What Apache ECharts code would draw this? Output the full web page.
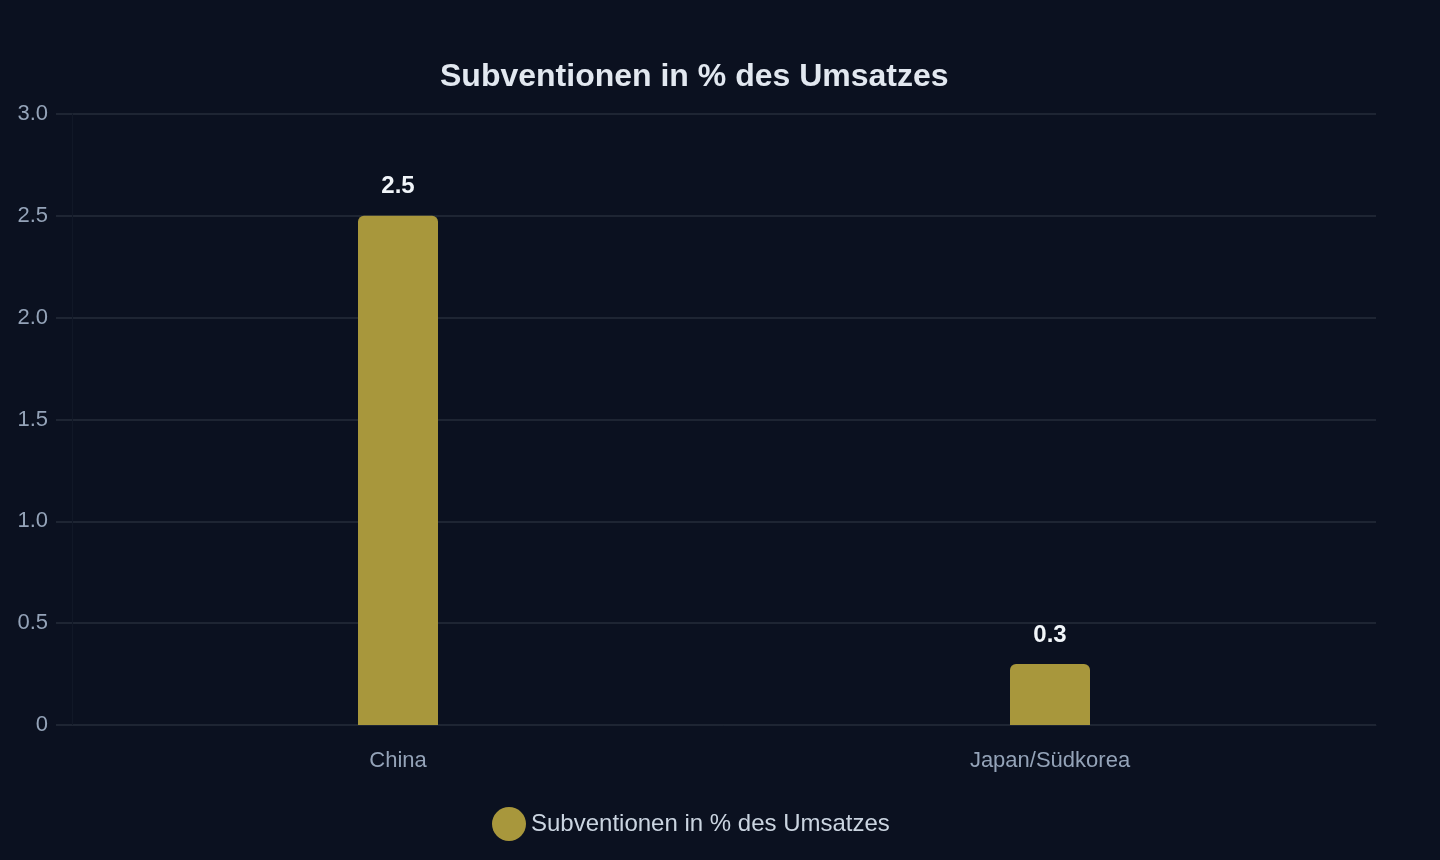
<!DOCTYPE html>
<html>
<head>
<meta charset="utf-8">
<script src="https://cdn.jsdelivr.net/npm/echarts@6/dist/echarts.min.js"></script>
<style>
html,body{margin:0;padding:0;background:#0b1120;}
#main{width:1440px;height:860px;}
</style>
</head>
<body>
<div id="main"></div>
<script>
// Daten
var kategorien = ['China', 'Japan/Südkorea'];
var subventionen = [2.5, 0.3];
var serienName = 'Subventionen in % des Umsatzes';

var myChart = echarts.init(document.getElementById('main'));
var option = {
    backgroundColor: '#0b1120',
    textStyle: { fontFamily: 'Liberation Sans, Arial, sans-serif' },
    title: {
        text: 'Subventionen in % des Umsatzes',
        left: 435,
        top: 56,
        textStyle: { color: '#e2e8f0', fontSize: 32, fontWeight: 'bold' }
    },
    legend: {
        data: [serienName],
        bottom: 14,
        left: 487,
        icon: 'circle',
        itemWidth: 34,
        itemHeight: 34,
        itemGap: 10,
        textStyle: { color: '#cbd5e1', fontSize: 24 }
    },
    grid: {
        left: 72,
        right: 64,
        top: 114,
        bottom: 135
    },
    xAxis: {
        type: 'category',
        data: kategorien,
        axisLine: { lineStyle: { color: '#1e2533' } },
        axisTick: { show: false },
        axisLabel: { color: '#94a3b8', fontSize: 22, margin: 25 }
    },
    yAxis: {
        type: 'value',
        min: 0,
        max: 3,
        interval: 0.5,
        axisLine: { show: true, lineStyle: { color: '#111827' } },
        axisTick: { show: true, length: 16, lineStyle: { color: '#1e2533', width: 2 } },
        axisLabel: {
            color: '#94a3b8', fontSize: 22, margin: 24,
            formatter: function (v) { return v === 0 ? '0' : v.toFixed(1); }
        },
        splitLine: { lineStyle: { color: '#1e2533', width: 2 } }
    },
    series: [{
        name: serienName,
        type: 'bar',
        data: subventionen,
        barWidth: 80,
        itemStyle: { color: '#a8973c', borderRadius: [6, 6, 0, 0] },
        label: {
            show: true,
            position: 'top',
            distance: 17,
            color: '#f1f5f9',
            fontSize: 24,
            fontWeight: 'bold',
            formatter: function (p) { return p.value.toFixed(1); }
        }
    }]
};
myChart.setOption(option);
</script>
</body>
</html>
